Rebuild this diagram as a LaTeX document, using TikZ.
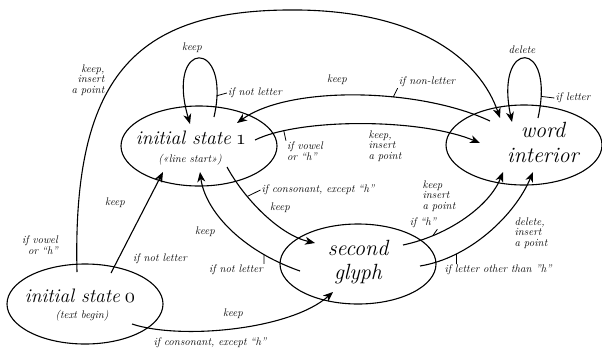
\documentclass[tikz,border=0pt]{standalone}
\usepackage{fontspec}
\usetikzlibrary{arrows.meta, shapes.geometric}

\newcommand{\oldnum}[1]{\hspace{-0.1em}{\usefont{OML}{cmm}{m}{it}#1}}

\tikzset{
  state/.style={draw, ellipse, line width=1.1pt, minimum width=156pt, minimum height=80pt, inner sep=0pt},
  big/.style={font=\fontsize{22}{25}\selectfont\itshape, inner sep=0pt, anchor=base},
  bigger/.style={big, font=\fontsize{19.5}{25}\selectfont\itshape},
  sub/.style={font=\fontsize{11}{11}\selectfont\itshape, inner sep=0pt, anchor=base},
  lbl/.style={font=\fontsize{11}{10.5}\selectfont\itshape, inner sep=1pt},
  move/.style={line width=1.1pt, -{Stealth[length=10pt,width=8pt,inset=3pt]}},
  flagline/.style={line width=0.8pt}
}

\begin{document}
\begin{tikzpicture}[x=1pt,y=-1pt]
    \useasboundingbox (0,0) rectangle (602,354);

    % the four states
    \node[state] (s0) at (85,304) {};
    \node[state] (s1) at (199,146) {};
    \node[state] (s2) at (358,264) {};
    \node[state] (s3) at (524,145) {};

    \node[bigger] (s0name) at (80,302) {initial state \oldnum{0}};
    \node[sub] (s0sub) at (82,318) {(text begin)};
    \node[bigger] (s1name) at (191,144) {initial state \oldnum{1}};
    \node[sub] (s1sub) at (190,162) {(«line start»)};
    \node[big] (s2name) at (358,255) {second};
    \node[big] (s2name2) at (358,279) {glyph};
    \node[big] (s3name) at (543,137) {word};
    \node[big] (s3name2) at (543,162) {interior};

    % end points of the moves
    \coordinate (s1loopout) at (214,117);
    \coordinate (s1loopin) at (190,124);
    \coordinate (s3loopout) at (538,118);
    \coordinate (s3loopin) at (512,122);
    \coordinate (s3left) at (490,121);
    \coordinate (s1right) at (237,123);
    \coordinate (s1east) at (255,140);
    \coordinate (s3west) at (480,143);
    \coordinate (s1low) at (227,167);
    \coordinate (s2nw) at (315,243);
    \coordinate (s2west) at (300,271);
    \coordinate (s1bottom) at (200,172);
    \coordinate (s0top) at (111,273);
    \coordinate (s1sw) at (163,172);
    \coordinate (s0topleft) at (77,272);
    \coordinate (s3nw) at (500,118);
    \coordinate (s0se) at (132,324);
    \coordinate (s2sw) at (333,292);
    \coordinate (s2ne) at (403,245);
    \coordinate (s3sw) at (503,172);
    \coordinate (s2east) at (420,266);
    \coordinate (s3south) at (533,172);

    % loops
    \draw[move] (s1loopout) .. controls (232,38) and (165,38) .. (s1loopin) coordinate[pos=0.1] (t1);
    \node[lbl] (k1) at (192,48) {keep};
    \node[lbl] (l1) at (255,93) {if not letter};
    \draw[flagline] (t1) -- (l1.west);

    \draw[move] (s3loopout) .. controls (556,38) and (494,38) .. (s3loopin) coordinate[pos=0.1] (t2);
    \node[lbl] (k2) at (522,50) {delete};
    \node[lbl] (l2) at (573,98) {if letter};
    \draw[flagline] (t2) -- (l2.west);

    % word interior back to line start
    \draw[move] (s3left) .. controls (420,88) and (290,85) .. (s1right) coordinate[pos=0.375] (t3);
    \node[lbl] (k3) at (337,80) {keep};
    \node[lbl] (l3) at (427,82) {if non-letter};
    \draw[flagline] (t3) -- (l3.south west);

    % line start to word interior
    \draw[move] (s1east) .. controls (300,118) and (420,118) .. (s3west) coordinate[pos=0.17] (t4);
    \node[lbl, align=left] (k4) at (385,146) {keep,\\insert\\a point};
    \node[lbl, align=left] (l4) at (305,151) {if vowel\\or “h”};
    \draw[flagline] (t4) -- (l4.north west);

    % line start to second glyph
    \draw[move] (s1low) .. controls (245,200) and (280,235) .. (s2nw) coordinate[pos=0.3] (t5);
    \node[lbl] (k5) at (280,208) {keep};
    \node[lbl] (l5) at (318,190) {if consonant, except “h”};
    \draw[flagline] (t5) -- (l5.west);

    % second glyph back to line start
    \draw[move] (s2west) .. controls (240,250) and (205,210) .. (s1bottom) coordinate[pos=0.22] (t6);
    \node[lbl] (k6) at (205,232) {keep};
    \node[lbl] (l6) at (236,270) {if not letter};
    \draw[flagline] (t6) -- (l6.north east);

    % text begin to line start
    \draw[move] (s0top) -- (s1sw);
    \node[lbl] (k7) at (115,203) {keep};
    \node[lbl] (l7) at (160,259) {if not letter};

    % text begin to word interior
    \draw[move] (s0topleft) .. controls (72,70) and (140,8) .. (300,10)
        .. controls (420,12) and (480,60) .. (s3nw);
    \node[lbl, align=right] (k8) at (88,80) {keep,\\insert\\a point};
    \node[lbl, align=right] (l8) at (40,245) {if vowel\\or “h”};

    % text begin to second glyph
    \draw[move] (s0se) .. controls (180,340) and (290,330) .. (s2sw);
    \node[lbl] (k9) at (233,314) {keep};
    \node[lbl] (l9) at (210,343) {if consonant, except “h”};

    % second glyph to word interior
    \draw[move] (s2ne) .. controls (450,235) and (490,205) .. (s3sw) coordinate[pos=0.22] (t10);
    \node[lbl, align=left] (k10) at (439,196) {keep\\insert\\a point};
    \node[lbl] (l10) at (423,223) {if “h”};
    \draw[flagline] (t10) -- (l10.south east);

    \draw[move] (s2east) .. controls (470,258) and (515,215) .. (s3south) coordinate[pos=0.25] (t11);
    \node[lbl, align=left] (k11) at (531,233) {delete,\\insert\\a point};
    \node[lbl] (l11) at (498,270) {if letter other than "h"};
    \draw[flagline] (t11) -- (t11 |- l11.north);
\end{tikzpicture}
\end{document}
